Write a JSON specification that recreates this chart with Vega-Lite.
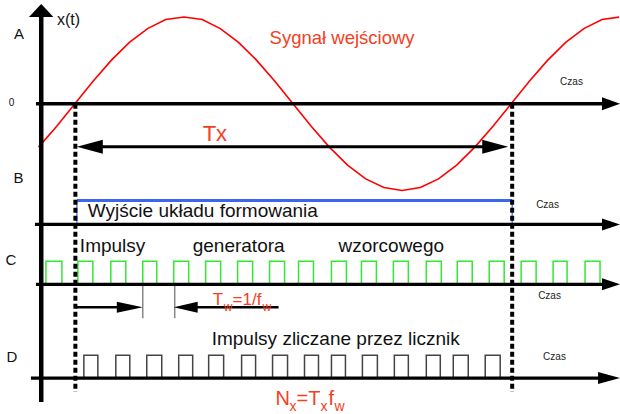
{
  "$schema": "https://vega.github.io/schema/vega-lite/v6.json",
  "width": 620,
  "height": 414,
  "padding": 0,
  "autosize": {"type": "fit", "contains": "padding"},
  "config": {"view": {"stroke": null}, "font": "Liberation Sans"},
  "datasets": {
    "sine": [
      {"x": 38.6, "y": 147.5}, {"x": 56.8, "y": 126.5}, {"x": 75, "y": 104}, {"x": 93.2, "y": 81.5},
      {"x": 111.4, "y": 60.5}, {"x": 129.6, "y": 42.5}, {"x": 147.8, "y": 28.7}, {"x": 166, "y": 19.5},
      {"x": 184.3, "y": 17}, {"x": 202.5, "y": 19.5}, {"x": 220.7, "y": 28.7}, {"x": 238.9, "y": 42.5},
      {"x": 257.1, "y": 60.5}, {"x": 275.3, "y": 81.5}, {"x": 293.5, "y": 104}, {"x": 311.7, "y": 126.5},
      {"x": 329.9, "y": 147.5}, {"x": 348.1, "y": 165.5}, {"x": 366.3, "y": 179.3}, {"x": 384.5, "y": 188},
      {"x": 402.8, "y": 191}, {"x": 421, "y": 188}, {"x": 439.2, "y": 179.3}, {"x": 457.4, "y": 165.5},
      {"x": 475.6, "y": 147.5}, {"x": 493.8, "y": 126.5}, {"x": 512, "y": 104}, {"x": 530.2, "y": 81.5},
      {"x": 548.4, "y": 60.5}, {"x": 566.6, "y": 42.5}, {"x": 584.8, "y": 28.7}, {"x": 603, "y": 19.5},
      {"x": 621, "y": 17}
    ],
    "greenPulses": [
      {"x1": 46, "x2": 62}, {"x1": 78, "x2": 93}, {"x1": 111, "x2": 126}, {"x1": 143, "x2": 157},
      {"x1": 174, "x2": 189}, {"x1": 206, "x2": 221}, {"x1": 238, "x2": 253}, {"x1": 270, "x2": 285},
      {"x1": 299, "x2": 314}, {"x1": 332, "x2": 347}, {"x1": 362, "x2": 377}, {"x1": 394, "x2": 409},
      {"x1": 427, "x2": 442}, {"x1": 458, "x2": 473}, {"x1": 490, "x2": 505}, {"x1": 522, "x2": 537},
      {"x1": 554, "x2": 568}, {"x1": 586, "x2": 601}
    ],
    "countPulses": [
      {"x1": 84, "x2": 98}, {"x1": 116, "x2": 130}, {"x1": 147, "x2": 162}, {"x1": 179, "x2": 193},
      {"x1": 209, "x2": 224}, {"x1": 242, "x2": 256}, {"x1": 273, "x2": 288}, {"x1": 305, "x2": 319},
      {"x1": 332, "x2": 346}, {"x1": 363, "x2": 378}, {"x1": 395, "x2": 409}, {"x1": 427, "x2": 441},
      {"x1": 454, "x2": 469}, {"x1": 486, "x2": 501}
    ],
    "axes": [
      {"x1": 36, "x2": 606, "y1": 104, "y2": 104},
      {"x1": 35, "x2": 606, "y1": 225, "y2": 225},
      {"x1": 36, "x2": 606, "y1": 285, "y2": 285},
      {"x1": 31, "x2": 602, "y1": 379, "y2": 379}
    ],
    "yaxis": [{"x1": 41.3, "x2": 41.3, "y1": 15, "y2": 403}],
    "dotted": [
      {"x1": 75.5, "x2": 75.5, "y1": 104, "y2": 393},
      {"x1": 513, "x2": 513, "y1": 104, "y2": 393}
    ],
    "txLine": [{"x1": 100, "x2": 486, "y1": 147, "y2": 147}],
    "twLines": [
      {"x1": 76, "x2": 119, "y1": 308, "y2": 308},
      {"x1": 196, "x2": 279, "y1": 308, "y2": 308}
    ],
    "grayTicks": [
      {"x1": 143, "x2": 143, "y1": 285, "y2": 319},
      {"x1": 175, "x2": 175, "y1": 285, "y2": 319}
    ],
    "blueTop": [{"x1": 77, "x2": 513, "y1": 201, "y2": 201}],
    "blueSides": [
      {"x1": 77, "x2": 77, "y1": 201, "y2": 225},
      {"x1": 513, "x2": 513, "y1": 201, "y2": 225}
    ],
    "heads": [
      {"id": "a1", "x": 603, "lo": 97.5, "hi": 110.5}, {"id": "a1", "x": 621, "lo": 104, "hi": 104},
      {"id": "a2", "x": 603, "lo": 219, "hi": 231}, {"id": "a2", "x": 621, "lo": 225, "hi": 225},
      {"id": "a3", "x": 603, "lo": 279, "hi": 291}, {"id": "a3", "x": 621, "lo": 285, "hi": 285},
      {"id": "a4", "x": 599, "lo": 373, "hi": 385}, {"id": "a4", "x": 621, "lo": 379, "hi": 379},
      {"id": "a5", "x": 77, "lo": 147, "hi": 147}, {"id": "a5", "x": 103, "lo": 140, "hi": 154},
      {"id": "a6", "x": 483, "lo": 140, "hi": 154}, {"id": "a6", "x": 509, "lo": 147, "hi": 147},
      {"id": "a7", "x": 117, "lo": 302.5, "hi": 313.5}, {"id": "a7", "x": 143, "lo": 308, "hi": 308},
      {"id": "a8", "x": 174, "lo": 308, "hi": 308}, {"id": "a8", "x": 198, "lo": 302.5, "hi": 313.5}
    ],
    "upHead": [
      {"y": 17, "lo": 29, "hi": 53.5},
      {"y": 4, "lo": 41.3, "hi": 41.3}
    ],
    "bigBlack": [
      {"x": 88, "y": 212, "t": "Wyjście układu formowania"},
      {"x": 80, "y": 247, "t": "Impulsy"},
      {"x": 193, "y": 247, "t": "generatora"},
      {"x": 339, "y": 247, "t": "wzorcowego"},
      {"x": 212, "y": 340, "t": "Impulsy zliczane przez licznik"}
    ],
    "rowLabels": [
      {"x": 19, "y": 34, "t": "A"},
      {"x": 18.5, "y": 178, "t": "B"},
      {"x": 11, "y": 261, "t": "C"},
      {"x": 12, "y": 358, "t": "D"}
    ],
    "xt": [{"x": 57, "y": 20, "t": "x(t)"}],
    "zero": [{"x": 11.5, "y": 103, "t": "0"}],
    "czas": [
      {"x": 561, "y": 82, "t": "Czas"},
      {"x": 537, "y": 205, "t": "Czas"},
      {"x": 539, "y": 297, "t": "Czas"},
      {"x": 544, "y": 358, "t": "Czas"}
    ],
    "sygnal": [{"x": 270, "y": 44.5, "t": "Sygnał wejściowy"}],
    "twMain": [
      {"x": 213, "y": 306, "t": "T"},
      {"x": 233, "y": 306, "t": "=1/f"}
    ],
    "twSub": [
      {"x": 224, "y": 312, "t": "w"},
      {"x": 263, "y": 312, "t": "w"}
    ],
    "nxMain": [
      {"x": 276, "y": 406, "t": "N"},
      {"x": 297, "y": 406, "t": "=T"},
      {"x": 329, "y": 406, "t": "f"}
    ],
    "nxSub": [
      {"x": 290, "y": 412, "t": "x"},
      {"x": 321, "y": 412, "t": "x"},
      {"x": 335, "y": 412, "t": "w"}
    ],
    "tx": [{"x": 203, "y": 141, "t": "Tx"}]
  },
  "resolve": {"scale": {"x": "shared", "y": "shared"}},
  "encoding": {
    "x": {"type": "quantitative", "scale": {"domain": [0, 620], "nice": false, "zero": false}, "axis": null},
    "y": {"type": "quantitative", "scale": {"domain": [0, 414], "nice": false, "zero": false, "reverse": true}, "axis": null}
  },
  "layer": [
    {
      "data": {"name": "sine"},
      "mark": {"type": "line", "color": "#ff0000", "strokeWidth": 1.6, "clip": true},
      "encoding": {"x": {"field": "x", "type": "quantitative"}, "y": {"field": "y", "type": "quantitative"}}
    },
    {
      "data": {"name": "greenPulses"},
      "mark": {"type": "rect", "filled": false, "stroke": "#33e833", "strokeWidth": 1.5},
      "encoding": {"x": {"field": "x1", "type": "quantitative"}, "x2": {"field": "x2"}, "y": {"datum": 262, "type": "quantitative"}, "y2": {"datum": 285}}
    },
    {
      "data": {"name": "countPulses"},
      "mark": {"type": "rect", "filled": false, "stroke": "#444444", "strokeWidth": 1.5},
      "encoding": {"x": {"field": "x1", "type": "quantitative"}, "x2": {"field": "x2"}, "y": {"datum": 356, "type": "quantitative"}, "y2": {"datum": 379}}
    },
    {
      "data": {"name": "blueTop"},
      "mark": {"type": "rule", "color": "#3b66ee", "strokeWidth": 3},
      "encoding": {"x": {"field": "x1", "type": "quantitative"}, "x2": {"field": "x2"}, "y": {"field": "y1", "type": "quantitative"}, "y2": {"field": "y2"}}
    },
    {
      "data": {"name": "blueSides"},
      "mark": {"type": "rule", "color": "#3b66ee", "strokeWidth": 1.2},
      "encoding": {"x": {"field": "x1", "type": "quantitative"}, "x2": {"field": "x2"}, "y": {"field": "y1", "type": "quantitative"}, "y2": {"field": "y2"}}
    },
    {
      "data": {"name": "grayTicks"},
      "mark": {"type": "rule", "color": "#888888", "strokeWidth": 1.5},
      "encoding": {"x": {"field": "x1", "type": "quantitative"}, "x2": {"field": "x2"}, "y": {"field": "y1", "type": "quantitative"}, "y2": {"field": "y2"}}
    },
    {
      "data": {"name": "axes"},
      "mark": {"type": "rule", "color": "#000000", "strokeWidth": 3.3},
      "encoding": {"x": {"field": "x1", "type": "quantitative"}, "x2": {"field": "x2"}, "y": {"field": "y1", "type": "quantitative"}, "y2": {"field": "y2"}}
    },
    {
      "data": {"name": "yaxis"},
      "mark": {"type": "rule", "color": "#000000", "strokeWidth": 4.5},
      "encoding": {"x": {"field": "x1", "type": "quantitative"}, "x2": {"field": "x2"}, "y": {"field": "y1", "type": "quantitative"}, "y2": {"field": "y2"}}
    },
    {
      "data": {"name": "dotted"},
      "mark": {"type": "rule", "color": "#000000", "strokeWidth": 4, "strokeDash": [5, 3]},
      "encoding": {"x": {"field": "x1", "type": "quantitative"}, "x2": {"field": "x2"}, "y": {"field": "y1", "type": "quantitative"}, "y2": {"field": "y2"}}
    },
    {
      "data": {"name": "txLine"},
      "mark": {"type": "rule", "color": "#000000", "strokeWidth": 3},
      "encoding": {"x": {"field": "x1", "type": "quantitative"}, "x2": {"field": "x2"}, "y": {"field": "y1", "type": "quantitative"}, "y2": {"field": "y2"}}
    },
    {
      "data": {"name": "twLines"},
      "mark": {"type": "rule", "color": "#000000", "strokeWidth": 2.5},
      "encoding": {"x": {"field": "x1", "type": "quantitative"}, "x2": {"field": "x2"}, "y": {"field": "y1", "type": "quantitative"}, "y2": {"field": "y2"}}
    },
    {
      "data": {"name": "heads"},
      "mark": {"type": "area", "color": "#000000", "orient": "vertical", "interpolate": "linear"},
      "encoding": {"x": {"field": "x", "type": "quantitative"}, "y": {"field": "lo", "type": "quantitative", "stack": null}, "y2": {"field": "hi"}, "detail": {"field": "id"}}
    },
    {
      "data": {"name": "upHead"},
      "mark": {"type": "area", "color": "#000000", "orient": "horizontal", "interpolate": "linear"},
      "encoding": {"y": {"field": "y", "type": "quantitative"}, "x": {"field": "lo", "type": "quantitative", "stack": null}, "x2": {"field": "hi"}}
    },
    {
      "data": {"name": "bigBlack"},
      "mark": {"type": "text", "font": "Liberation Sans", "fontSize": 19, "color": "#111111", "align": "left", "baseline": "middle"},
      "encoding": {"x": {"field": "x", "type": "quantitative"}, "y": {"field": "y", "type": "quantitative"}, "text": {"field": "t"}}
    },
    {
      "data": {"name": "rowLabels"},
      "mark": {"type": "text", "font": "Liberation Sans", "fontSize": 15, "color": "#111111", "align": "center", "baseline": "middle"},
      "encoding": {"x": {"field": "x", "type": "quantitative"}, "y": {"field": "y", "type": "quantitative"}, "text": {"field": "t"}}
    },
    {
      "data": {"name": "xt"},
      "mark": {"type": "text", "font": "Liberation Sans", "fontSize": 16, "color": "#111111", "align": "left", "baseline": "middle"},
      "encoding": {"x": {"field": "x", "type": "quantitative"}, "y": {"field": "y", "type": "quantitative"}, "text": {"field": "t"}}
    },
    {
      "data": {"name": "zero"},
      "mark": {"type": "text", "font": "Liberation Sans", "fontSize": 10, "color": "#111111", "align": "center", "baseline": "middle"},
      "encoding": {"x": {"field": "x", "type": "quantitative"}, "y": {"field": "y", "type": "quantitative"}, "text": {"field": "t"}}
    },
    {
      "data": {"name": "czas"},
      "mark": {"type": "text", "font": "Liberation Sans", "fontSize": 10, "color": "#222222", "align": "left", "baseline": "middle"},
      "encoding": {"x": {"field": "x", "type": "quantitative"}, "y": {"field": "y", "type": "quantitative"}, "text": {"field": "t"}}
    },
    {
      "data": {"name": "sygnal"},
      "mark": {"type": "text", "font": "Liberation Sans", "fontSize": 18.5, "color": "#f4401e", "align": "left", "baseline": "alphabetic"},
      "encoding": {"x": {"field": "x", "type": "quantitative"}, "y": {"field": "y", "type": "quantitative"}, "text": {"field": "t"}}
    },
    {
      "data": {"name": "twMain"},
      "mark": {"type": "text", "font": "Liberation Sans", "fontSize": 17, "color": "#f4401e", "align": "left", "baseline": "alphabetic"},
      "encoding": {"x": {"field": "x", "type": "quantitative"}, "y": {"field": "y", "type": "quantitative"}, "text": {"field": "t"}}
    },
    {
      "data": {"name": "twSub"},
      "mark": {"type": "text", "font": "Liberation Sans", "fontSize": 12, "color": "#f4401e", "align": "left", "baseline": "alphabetic"},
      "encoding": {"x": {"field": "x", "type": "quantitative"}, "y": {"field": "y", "type": "quantitative"}, "text": {"field": "t"}}
    },
    {
      "data": {"name": "nxMain"},
      "mark": {"type": "text", "font": "Liberation Sans", "fontSize": 20, "color": "#f4401e", "align": "left", "baseline": "alphabetic"},
      "encoding": {"x": {"field": "x", "type": "quantitative"}, "y": {"field": "y", "type": "quantitative"}, "text": {"field": "t"}}
    },
    {
      "data": {"name": "nxSub"},
      "mark": {"type": "text", "font": "Liberation Sans", "fontSize": 14, "color": "#f4401e", "align": "left", "baseline": "alphabetic"},
      "encoding": {"x": {"field": "x", "type": "quantitative"}, "y": {"field": "y", "type": "quantitative"}, "text": {"field": "t"}}
    },
    {
      "data": {"name": "tx"},
      "mark": {"type": "text", "font": "Liberation Sans", "fontSize": 22, "color": "#f4401e", "align": "left", "baseline": "alphabetic"},
      "encoding": {"x": {"field": "x", "type": "quantitative"}, "y": {"field": "y", "type": "quantitative"}, "text": {"field": "t"}}
    }
  ]
}
